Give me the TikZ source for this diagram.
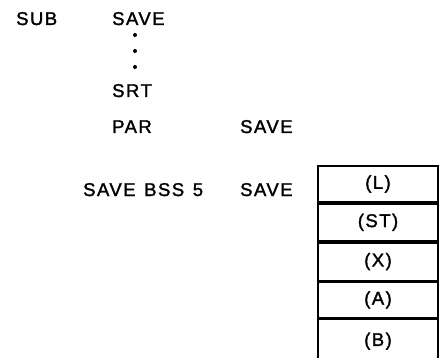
\documentclass[tikz,border=0pt]{standalone}
\usepackage{fontspec}
\setmainfont[LetterSpace=8,FakeBold=1.6,WordSpace=1.3]{Liberation Sans}
\begin{document}
\begin{tikzpicture}[x=1pt,y=-1pt,
  lbl/.style={anchor=base west,inner sep=0pt,font=\fontsize{18.5}{22}\selectfont},
  cell/.style={draw,line width=1.8pt,minimum width=120pt,inner sep=0pt,font=\fontsize{18.5}{22}\selectfont},
  dotmark/.style={fill,circle,inner sep=0pt,minimum size=4pt}]
\useasboundingbox (0,0) rectangle (441,358);
\node[lbl] (sub) at (16,25) {SUB};
\node[lbl] (save1) at (112,25) {SAVE};
\node[dotmark] (d1) at (135,35) {};
\node[dotmark] (d2) at (135,51) {};
\node[dotmark] (d3) at (135,67) {};
\node[lbl] (srt) at (112,97) {SRT};
\node[lbl] (par) at (112,133) {PAR};
\node[lbl] (save2) at (240,133) {SAVE};
\node[lbl] (bss) at (83,196) {SAVE BSS 5};
\node[lbl] (save3) at (240,196) {SAVE};
\node[cell,minimum height=36pt] (cL) at (378,184) {(L)};
\node[cell,minimum height=37pt,anchor=north] (cST) at (cL.south) {(ST)};
\node[cell,minimum height=38pt,anchor=north] (cX) at (cST.south) {(X)};
\node[cell,minimum height=35pt,anchor=north] (cA) at (cX.south) {(A)};
\node[cell,minimum height=44pt,anchor=north] (cB) at (cA.south) {(B)};
\end{tikzpicture}
\end{document}
